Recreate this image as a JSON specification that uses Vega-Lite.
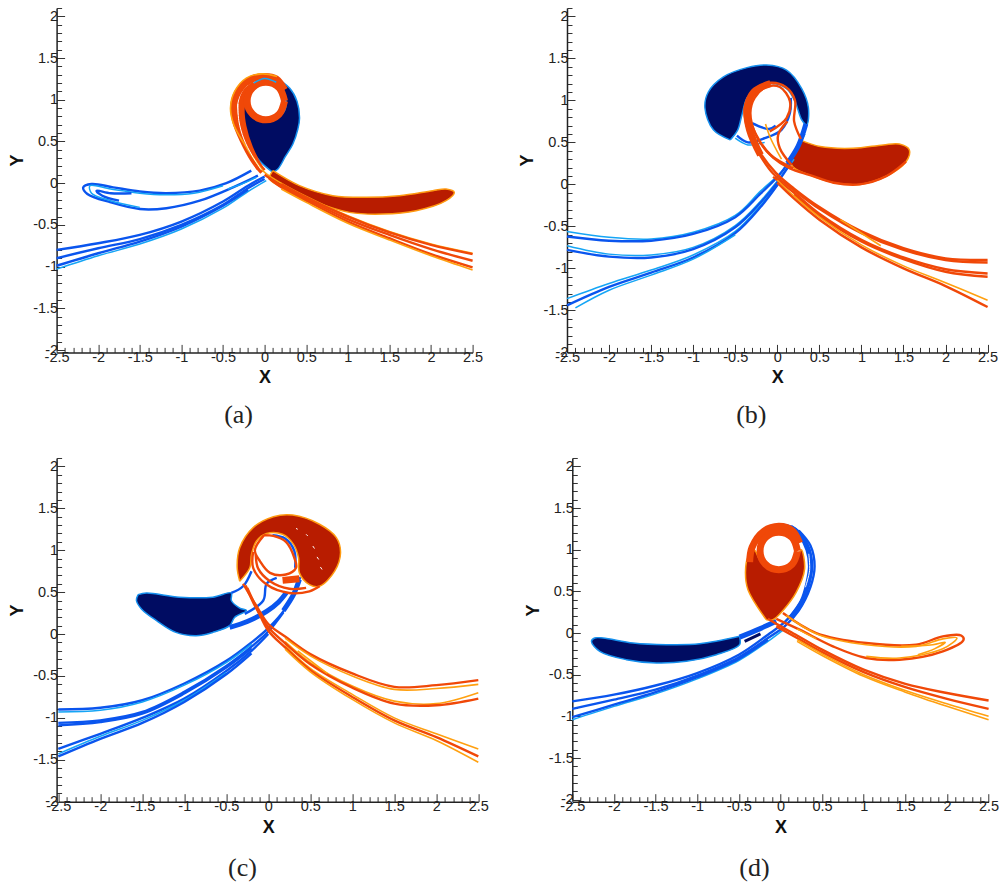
{"$schema":"https://vega.github.io/schema/vega-lite/v6.json","padding":{"left":8.6,"top":0,"right":0,"bottom":0},"spacing":22,
"config":{"view":{"stroke":null},"title":{"font":"Liberation Serif","fontSize":26,"fontWeight":"normal","orient":"bottom","dx":-26,"offset":15,"color":"#222"},
"axis":{"grid":false,"tickCount":50,"labelFont":"Liberation Sans","labelFontSize":14.5,"labelColor":"#222","labelOverlap":false,"labelBound":false,"labelFlush":false,"domainColor":"#222","domainWidth":1.5,"tickColor":"#333","tickWidth":1,"format":".1~f","labelExpr":"abs(datum.value*2-round(datum.value*2))<0.01 ? replace(datum.label,'\u2212','-') : ''","titleFont":"Liberation Sans","titleFontSize":18,"titleFontWeight":"bold","titleColor":"#111"},
"axisY":{"tickCount":41,"labelPadding":7,"titleAngle":270,"titleX":-30,"titleY":152},"axisX":{"labelPadding":6,"titlePadding":2}},
"datasets":{
"a":[
{"s":"n","k":"navy","x":0.1,"y":0.13},{"s":"n","k":"navy","x":0.16,"y":0.17},{"s":"n","k":"navy","x":0.25,"y":0.32},{"s":"n","k":"navy","x":0.34,"y":0.47},{"s":"n","k":"navy","x":0.4,"y":0.65},{"s":"n","k":"navy","x":0.42,"y":0.78},{"s":"n","k":"navy","x":0.39,"y":0.98},{"s":"n","k":"navy","x":0.3,"y":1.14},{"s":"n","k":"navy","x":0.16,"y":1.24},{"s":"n","k":"navy","x":0.22,"y":1.1},{"s":"n","k":"navy","x":0.26,"y":0.95},{"s":"n","k":"navy","x":0.2,"y":0.82},{"s":"n","k":"navy","x":0,"y":0.78},{"s":"n","k":"navy","x":-0.18,"y":0.88},{"s":"n","k":"navy","x":-0.2,"y":1.03},{"s":"n","k":"navy","x":-0.24,"y":1.03},{"s":"n","k":"navy","x":-0.29,"y":0.79},{"s":"n","k":"navy","x":-0.22,"y":0.51},{"s":"n","k":"navy","x":-0.06,"y":0.27},{"s":"n","k":"navy","x":0.1,"y":0.13},
{"s":"r","k":"red","x":0.1,"y":0.15},{"s":"r","k":"red","x":0.42,"y":-0.03},{"s":"r","k":"red","x":0.82,"y":-0.15},{"s":"r","k":"red","x":1.22,"y":-0.17},{"s":"r","k":"red","x":1.62,"y":-0.15},{"s":"r","k":"red","x":2.02,"y":-0.09},{"s":"r","k":"red","x":2.18,"y":-0.07},{"s":"r","k":"red","x":2.28,"y":-0.11},{"s":"r","k":"red","x":2.18,"y":-0.21},{"s":"r","k":"red","x":1.82,"y":-0.33},{"s":"r","k":"red","x":1.42,"y":-0.37},{"s":"r","k":"red","x":1.02,"y":-0.35},{"s":"r","k":"red","x":0.62,"y":-0.23},{"s":"r","k":"red","x":0.3,"y":-0.09},{"s":"r","k":"red","x":0.06,"y":0.05},{"s":"r","k":"red","x":0.1,"y":0.15},
{"s":"b1","k":"blue","x":-2.5,"y":-0.8},{"s":"b1","k":"blue","x":-2,"y":-0.72},{"s":"b1","k":"blue","x":-1.5,"y":-0.62},{"s":"b1","k":"blue","x":-1,"y":-0.46},{"s":"b1","k":"blue","x":-0.5,"y":-0.22},{"s":"b1","k":"blue","x":-0.2,"y":-0.03},{"s":"b1","k":"blue","x":0,"y":0.08},
{"s":"b2","k":"blue","x":-2.5,"y":-0.9},{"s":"b2","k":"blue","x":-2,"y":-0.78},{"s":"b2","k":"blue","x":-1.5,"y":-0.67},{"s":"b2","k":"blue","x":-1,"y":-0.5},{"s":"b2","k":"blue","x":-0.5,"y":-0.26},{"s":"b2","k":"blue","x":-0.2,"y":-0.06},{"s":"b2","k":"blue","x":0,"y":0.05},
{"s":"b3","k":"sky","x":-2.5,"y":-1.03},{"s":"b3","k":"sky","x":-2,"y":-0.87},{"s":"b3","k":"sky","x":-1.5,"y":-0.73},{"s":"b3","k":"sky","x":-1,"y":-0.55},{"s":"b3","k":"sky","x":-0.5,"y":-0.3},{"s":"b3","k":"sky","x":-0.2,"y":-0.1},{"s":"b3","k":"sky","x":0.02,"y":0.03},
{"s":"b4","k":"blue","x":-2.5,"y":-0.99},{"s":"b4","k":"blue","x":-2,"y":-0.84},{"s":"b4","k":"blue","x":-1.5,"y":-0.7},{"s":"b4","k":"blue","x":-1,"y":-0.52},{"s":"b4","k":"blue","x":-0.5,"y":-0.27},{"s":"b4","k":"blue","x":-0.2,"y":-0.08},
{"s":"b5","k":"blue","x":-0.16,"y":0.15},{"s":"b5","k":"blue","x":-0.46,"y":0},{"s":"b5","k":"blue","x":-0.78,"y":-0.09},{"s":"b5","k":"blue","x":-1.18,"y":-0.12},{"s":"b5","k":"blue","x":-1.5,"y":-0.1},{"s":"b5","k":"blue","x":-1.82,"y":-0.05},{"s":"b5","k":"blue","x":-2.08,"y":-0.01},{"s":"b5","k":"blue","x":-2.18,"y":-0.05},{"s":"b5","k":"blue","x":-2.13,"y":-0.13},{"s":"b5","k":"blue","x":-1.85,"y":-0.23},{"s":"b5","k":"blue","x":-1.5,"y":-0.31},{"s":"b5","k":"blue","x":-1.18,"y":-0.3},{"s":"b5","k":"blue","x":-0.78,"y":-0.21},{"s":"b5","k":"blue","x":-0.38,"y":-0.05},{"s":"b5","k":"blue","x":-0.08,"y":0.09},
{"s":"b6","k":"sky","x":-0.5,"y":-0.03},{"s":"b6","k":"sky","x":-0.85,"y":-0.12},{"s":"b6","k":"sky","x":-1.2,"y":-0.14},{"s":"b6","k":"sky","x":-1.5,"y":-0.12},{"s":"b6","k":"sky","x":-1.85,"y":-0.07},{"s":"b6","k":"sky","x":-2.1,"y":-0.03},{"s":"b6","k":"sky","x":-2.08,"y":-0.12},{"s":"b6","k":"sky","x":-1.85,"y":-0.21},{"s":"b6","k":"sky","x":-1.5,"y":-0.29},
{"s":"b7","k":"blue","x":-1.6,"y":-0.12},{"s":"b7","k":"blue","x":-1.85,"y":-0.12},{"s":"b7","k":"blue","x":-2.02,"y":-0.09},{"s":"b7","k":"blue","x":-1.95,"y":-0.15},{"s":"b7","k":"blue","x":-1.75,"y":-0.21},
{"s":"b8","k":"sky","x":-0.44,"y":-0.07},{"s":"b8","k":"sky","x":-0.25,"y":0},{"s":"b8","k":"sky","x":-0.1,"y":0.07},
{"s":"w","k":"orangewide","x":-0.02,"y":0.14},{"s":"w","k":"orangewide","x":-0.13,"y":0.28},{"s":"w","k":"orangewide","x":-0.26,"y":0.52},{"s":"w","k":"orangewide","x":-0.35,"y":0.75},{"s":"w","k":"orangewide","x":-0.37,"y":0.95},{"s":"w","k":"orangewide","x":-0.29,"y":1.14},{"s":"w","k":"orangewide","x":-0.15,"y":1.25},{"s":"w","k":"orangewide","x":0,"y":1.28},{"s":"w","k":"orangewide","x":0.14,"y":1.25},{"s":"w","k":"orangewide","x":0.24,"y":1.12},
{"s":"w2","k":"orangewide","x":-0.06,"y":0.18},{"s":"w2","k":"orangewide","x":-0.18,"y":0.42},{"s":"w2","k":"orangewide","x":-0.26,"y":0.68},{"s":"w2","k":"orangewide","x":-0.28,"y":0.9},{"s":"w2","k":"orangewide","x":-0.23,"y":1.08},{"s":"w2","k":"orangewide","x":-0.12,"y":1.18},
{"s":"o1","k":"amber","x":2.5,"y":-0.84},{"s":"o1","k":"amber","x":2,"y":-0.73},{"s":"o1","k":"amber","x":1.5,"y":-0.58},{"s":"o1","k":"amber","x":1,"y":-0.39},{"s":"o1","k":"amber","x":0.5,"y":-0.16},{"s":"o1","k":"amber","x":0.2,"y":0},{"s":"o1","k":"amber","x":0,"y":0.13},{"s":"o1","k":"amber","x":-0.12,"y":0.28},{"s":"o1","k":"amber","x":-0.25,"y":0.48},{"s":"o1","k":"amber","x":-0.37,"y":0.7},{"s":"o1","k":"amber","x":-0.41,"y":0.9},{"s":"o1","k":"amber","x":-0.36,"y":1.1},{"s":"o1","k":"amber","x":-0.22,"y":1.26},{"s":"o1","k":"amber","x":-0.03,"y":1.31},{"s":"o1","k":"amber","x":0.15,"y":1.28},
{"s":"o2","k":"orange","x":2.5,"y":-0.93},{"s":"o2","k":"orange","x":2,"y":-0.79},{"s":"o2","k":"orange","x":1.5,"y":-0.62},{"s":"o2","k":"orange","x":1,"y":-0.43},{"s":"o2","k":"orange","x":0.5,"y":-0.19},{"s":"o2","k":"orange","x":0.2,"y":-0.03},{"s":"o2","k":"orange","x":0,"y":0.1},
{"s":"o2b","k":"orange","x":2.5,"y":-0.85},{"s":"o2b","k":"orange","x":2,"y":-0.74},{"s":"o2b","k":"orange","x":1.5,"y":-0.59},{"s":"o2b","k":"orange","x":1,"y":-0.4},{"s":"o2b","k":"orange","x":0.5,"y":-0.17},{"s":"o2b","k":"orange","x":0.2,"y":-0.01},
{"s":"o3","k":"orange","x":2.5,"y":-1.01},{"s":"o3","k":"orange","x":2,"y":-0.85},{"s":"o3","k":"orange","x":1.5,"y":-0.66},{"s":"o3","k":"orange","x":1,"y":-0.46},{"s":"o3","k":"orange","x":0.5,"y":-0.21},{"s":"o3","k":"orange","x":0.2,"y":-0.05},{"s":"o3","k":"orange","x":0.05,"y":0.06},
{"s":"o4","k":"amber","x":2.5,"y":-1.04},{"s":"o4","k":"amber","x":2,"y":-0.87},{"s":"o4","k":"amber","x":1.5,"y":-0.68},{"s":"o4","k":"amber","x":1,"y":-0.48},{"s":"o4","k":"amber","x":0.5,"y":-0.23},{"s":"o4","k":"amber","x":0.2,"y":-0.07},
{"s":"wh","k":"white","x":-0.04,"y":0.16},{"s":"wh","k":"white","x":-0.15,"y":0.33},{"s":"wh","k":"white","x":-0.25,"y":0.53},{"s":"wh","k":"white","x":-0.31,"y":0.75},{"s":"wh","k":"white","x":-0.32,"y":0.95},
{"s":"ring","k":"orangewide","x":0.24,"y":0.985},{"s":"ring","k":"orangewide","x":0.174,"y":1.144},{"s":"ring","k":"orangewide","x":0.015,"y":1.21},{"s":"ring","k":"orangewide","x":-0.144,"y":1.144},{"s":"ring","k":"orangewide","x":-0.21,"y":0.985},{"s":"ring","k":"orangewide","x":-0.144,"y":0.826},{"s":"ring","k":"orangewide","x":0.015,"y":0.76},{"s":"ring","k":"orangewide","x":0.174,"y":0.826},{"s":"ring","k":"orangewide","x":0.24,"y":0.985},
{"s":"b9","k":"sky","x":-0.13,"y":1.2},{"s":"b9","k":"sky","x":0,"y":1.255},{"s":"b9","k":"sky","x":0.14,"y":1.21}
],
"b":[
{"s":"n","k":"navy","x":-0.56,"y":0.53},{"s":"n","k":"navy","x":-0.76,"y":0.65},{"s":"n","k":"navy","x":-0.86,"y":0.91},{"s":"n","k":"navy","x":-0.82,"y":1.1},{"s":"n","k":"navy","x":-0.64,"y":1.28},{"s":"n","k":"navy","x":-0.36,"y":1.39},{"s":"n","k":"navy","x":-0.13,"y":1.42},{"s":"n","k":"navy","x":0.11,"y":1.36},{"s":"n","k":"navy","x":0.29,"y":1.14},{"s":"n","k":"navy","x":0.37,"y":0.91},{"s":"n","k":"navy","x":0.35,"y":0.71},{"s":"n","k":"navy","x":0.29,"y":0.77},{"s":"n","k":"navy","x":0.21,"y":0.99},{"s":"n","k":"navy","x":0.11,"y":1.14},{"s":"n","k":"navy","x":-0.07,"y":1.2},{"s":"n","k":"navy","x":-0.25,"y":1.14},{"s":"n","k":"navy","x":-0.36,"y":1.03},{"s":"n","k":"navy","x":-0.42,"y":0.83},{"s":"n","k":"navy","x":-0.47,"y":0.65},{"s":"n","k":"navy","x":-0.56,"y":0.53},
{"s":"r","k":"red","x":0.27,"y":0.53},{"s":"r","k":"red","x":0.51,"y":0.45},{"s":"r","k":"red","x":0.9,"y":0.43},{"s":"r","k":"red","x":1.26,"y":0.47},{"s":"r","k":"red","x":1.45,"y":0.48},{"s":"r","k":"red","x":1.57,"y":0.41},{"s":"r","k":"red","x":1.53,"y":0.27},{"s":"r","k":"red","x":1.3,"y":0.1},{"s":"r","k":"red","x":0.98,"y":0},{"s":"r","k":"red","x":0.67,"y":0.02},{"s":"r","k":"red","x":0.39,"y":0.11},{"s":"r","k":"red","x":0.17,"y":0.23},{"s":"r","k":"red","x":0.27,"y":0.53},
{"s":"b1","k":"sky","x":-2.5,"y":-0.56},{"s":"b1","k":"sky","x":-2,"y":-0.63},{"s":"b1","k":"sky","x":-1.5,"y":-0.65},{"s":"b1","k":"sky","x":-1,"y":-0.57},{"s":"b1","k":"sky","x":-0.5,"y":-0.37},{"s":"b1","k":"sky","x":-0.2,"y":-0.08},{"s":"b1","k":"sky","x":0.05,"y":0.15},{"s":"b1","k":"sky","x":0.2,"y":0.36},{"s":"b1","k":"sky","x":0.33,"y":0.6},
{"s":"b2","k":"blue","x":-2.5,"y":-0.62},{"s":"b2","k":"blue","x":-2,"y":-0.67},{"s":"b2","k":"blue","x":-1.5,"y":-0.67},{"s":"b2","k":"blue","x":-1,"y":-0.59},{"s":"b2","k":"blue","x":-0.5,"y":-0.39},{"s":"b2","k":"blue","x":-0.2,"y":-0.11},{"s":"b2","k":"blue","x":0.03,"y":0.12},{"s":"b2","k":"blue","x":0.18,"y":0.34},{"s":"b2","k":"blue","x":0.3,"y":0.58},
{"s":"b3","k":"sky","x":-2.5,"y":-0.73},{"s":"b3","k":"sky","x":-2,"y":-0.83},{"s":"b3","k":"sky","x":-1.5,"y":-0.84},{"s":"b3","k":"sky","x":-1,"y":-0.75},{"s":"b3","k":"sky","x":-0.5,"y":-0.49},{"s":"b3","k":"sky","x":-0.2,"y":-0.2},{"s":"b3","k":"sky","x":0,"y":0.04},{"s":"b3","k":"sky","x":0.2,"y":0.3},
{"s":"b4","k":"blue","x":-2.5,"y":-0.78},{"s":"b4","k":"blue","x":-2,"y":-0.86},{"s":"b4","k":"blue","x":-1.5,"y":-0.87},{"s":"b4","k":"blue","x":-1,"y":-0.77},{"s":"b4","k":"blue","x":-0.5,"y":-0.51},{"s":"b4","k":"blue","x":-0.2,"y":-0.22},{"s":"b4","k":"blue","x":0,"y":0.02},{"s":"b4","k":"blue","x":0.17,"y":0.27},
{"s":"b5","k":"sky","x":-2.5,"y":-1.36},{"s":"b5","k":"sky","x":-2,"y":-1.18},{"s":"b5","k":"sky","x":-1.5,"y":-1.02},{"s":"b5","k":"sky","x":-1,"y":-0.84},{"s":"b5","k":"sky","x":-0.5,"y":-0.56},{"s":"b5","k":"sky","x":-0.2,"y":-0.25},{"s":"b5","k":"sky","x":0.04,"y":0.04},
{"s":"b6","k":"blue","x":-2.5,"y":-1.44},{"s":"b6","k":"blue","x":-2,"y":-1.22},{"s":"b6","k":"blue","x":-1.5,"y":-1.05},{"s":"b6","k":"blue","x":-1,"y":-0.87},{"s":"b6","k":"blue","x":-0.5,"y":-0.58},{"s":"b6","k":"blue","x":-0.2,"y":-0.27},{"s":"b6","k":"blue","x":0.02,"y":0.02},
{"s":"b7","k":"sky","x":-2.4,"y":-1.47},{"s":"b7","k":"sky","x":-2,"y":-1.26},{"s":"b7","k":"sky","x":-1.5,"y":-1.08},{"s":"b7","k":"sky","x":-1,"y":-0.89},{"s":"b7","k":"sky","x":-0.5,"y":-0.6},
{"s":"b8","k":"bluewide","x":0.12,"y":0.25},{"s":"b8","k":"bluewide","x":0.25,"y":0.46},{"s":"b8","k":"bluewide","x":0.34,"y":0.72},
{"s":"b9","k":"blue","x":-0.48,"y":0.58},{"s":"b9","k":"blue","x":-0.35,"y":0.5},{"s":"b9","k":"blue","x":-0.15,"y":0.55},{"s":"b9","k":"blue","x":0.05,"y":0.65},{"s":"b9","k":"blue","x":0.15,"y":0.85},{"s":"b9","k":"blue","x":0.16,"y":1.03},
{"s":"b10","k":"sky","x":-0.5,"y":0.55},{"s":"b10","k":"sky","x":-0.35,"y":0.47},{"s":"b10","k":"sky","x":-0.15,"y":0.5},
{"s":"b11","k":"blue","x":-0.3,"y":0.73},{"s":"b11","k":"blue","x":-0.1,"y":0.66},{"s":"b11","k":"blue","x":-0.02,"y":0.7},
{"s":"o1","k":"orange","x":2.5,"y":-0.9},{"s":"o1","k":"orange","x":2,"y":-0.88},{"s":"o1","k":"orange","x":1.5,"y":-0.76},{"s":"o1","k":"orange","x":1,"y":-0.56},{"s":"o1","k":"orange","x":0.5,"y":-0.27},{"s":"o1","k":"orange","x":0.2,"y":-0.05},{"s":"o1","k":"orange","x":-0.02,"y":0.14},{"s":"o1","k":"orange","x":-0.25,"y":0.45},{"s":"o1","k":"orange","x":-0.37,"y":0.72},{"s":"o1","k":"orange","x":-0.38,"y":0.95},{"s":"o1","k":"orange","x":-0.28,"y":1.12},{"s":"o1","k":"orange","x":-0.08,"y":1.21},{"s":"o1","k":"orange","x":0.1,"y":1.16},{"s":"o1","k":"orange","x":0.21,"y":1},{"s":"o1","k":"orange","x":0.2,"y":0.75},{"s":"o1","k":"orange","x":0.28,"y":0.54},
{"s":"o1w","k":"orangewide","x":-0.2,"y":0.35},{"s":"o1w","k":"orangewide","x":-0.33,"y":0.65},{"s":"o1w","k":"orangewide","x":-0.36,"y":0.9},{"s":"o1w","k":"orangewide","x":-0.28,"y":1.1},{"s":"o1w","k":"orangewide","x":-0.08,"y":1.2},
{"s":"o2","k":"orange","x":2.5,"y":-0.93},{"s":"o2","k":"orange","x":2,"y":-0.9},{"s":"o2","k":"orange","x":1.5,"y":-0.78},{"s":"o2","k":"orange","x":1,"y":-0.58},{"s":"o2","k":"orange","x":0.5,"y":-0.29},{"s":"o2","k":"orange","x":0.2,"y":-0.07},{"s":"o2","k":"orange","x":-0.05,"y":0.13},{"s":"o2","k":"orange","x":-0.22,"y":0.37},
{"s":"o3","k":"orange","x":2.5,"y":-1.06},{"s":"o3","k":"orange","x":2,"y":-1.01},{"s":"o3","k":"orange","x":1.5,"y":-0.87},{"s":"o3","k":"orange","x":1,"y":-0.66},{"s":"o3","k":"orange","x":0.5,"y":-0.35},{"s":"o3","k":"orange","x":0.2,"y":-0.1},{"s":"o3","k":"orange","x":-0.05,"y":0.09},
{"s":"o4","k":"orange","x":2.5,"y":-1.1},{"s":"o4","k":"orange","x":2,"y":-1.04},{"s":"o4","k":"orange","x":1.5,"y":-0.89},{"s":"o4","k":"orange","x":1,"y":-0.68},{"s":"o4","k":"orange","x":0.5,"y":-0.37},{"s":"o4","k":"orange","x":0.2,"y":-0.12},
{"s":"o5","k":"amber","x":2.5,"y":-1.38},{"s":"o5","k":"amber","x":2,"y":-1.17},{"s":"o5","k":"amber","x":1.5,"y":-0.97},{"s":"o5","k":"amber","x":1,"y":-0.72},{"s":"o5","k":"amber","x":0.5,"y":-0.39},{"s":"o5","k":"amber","x":0.2,"y":-0.14},{"s":"o5","k":"amber","x":0,"y":0.05},
{"s":"o6","k":"orange","x":2.5,"y":-1.46},{"s":"o6","k":"orange","x":2,"y":-1.21},{"s":"o6","k":"orange","x":1.5,"y":-1},{"s":"o6","k":"orange","x":1,"y":-0.75},{"s":"o6","k":"orange","x":0.5,"y":-0.42},{"s":"o6","k":"orange","x":0.2,"y":-0.17},{"s":"o6","k":"orange","x":0,"y":0.02},
{"s":"o7","k":"orange","x":0.19,"y":0.19},{"s":"o7","k":"orange","x":-0.08,"y":0.35},{"s":"o7","k":"orange","x":-0.25,"y":0.58},{"s":"o7","k":"orange","x":-0.32,"y":0.85},{"s":"o7","k":"orange","x":-0.27,"y":1.03},{"s":"o7","k":"orange","x":-0.13,"y":1.16},{"s":"o7","k":"orange","x":0.03,"y":1.16},{"s":"o7","k":"orange","x":0.15,"y":0.99},{"s":"o7","k":"orange","x":0.11,"y":0.79},{"s":"o7","k":"orange","x":-0.09,"y":0.63},
{"s":"o8","k":"orange","x":1.53,"y":0.27},{"s":"o8","k":"orange","x":1.3,"y":0.1},{"s":"o8","k":"orange","x":0.98,"y":0},{"s":"o8","k":"orange","x":0.67,"y":0.02},{"s":"o8","k":"orange","x":0.39,"y":0.11},{"s":"o8","k":"orange","x":0.15,"y":0.19},{"s":"o8","k":"orange","x":-0.05,"y":0.32},{"s":"o8","k":"orange","x":-0.2,"y":0.5},{"s":"o8","k":"orange","x":-0.32,"y":0.75},{"s":"o8","k":"orange","x":-0.35,"y":0.9},
{"s":"o9","k":"orange","x":0.17,"y":0.23},{"s":"o9","k":"orange","x":0.03,"y":0.43},{"s":"o9","k":"orange","x":0.01,"y":0.59},{"s":"o9","k":"orange","x":0.12,"y":0.75},
{"s":"o10","k":"amber","x":-0.14,"y":0.72},{"s":"o10","k":"amber","x":-0.08,"y":0.55},{"s":"o10","k":"amber","x":0.05,"y":0.3},
{"s":"o11","k":"amber","x":0.75,"y":-0.42},{"s":"o11","k":"amber","x":1.23,"y":-0.73}
],
"c":[
{"s":"n","k":"navy","x":-1.55,"y":0.47},{"s":"n","k":"navy","x":-1.45,"y":0.49},{"s":"n","k":"navy","x":-1.06,"y":0.44},{"s":"n","k":"navy","x":-0.66,"y":0.44},{"s":"n","k":"navy","x":-0.44,"y":0.49},{"s":"n","k":"navy","x":-0.44,"y":0.4},{"s":"n","k":"navy","x":-0.34,"y":0.31},{"s":"n","k":"navy","x":-0.26,"y":0.28},{"s":"n","k":"navy","x":-0.4,"y":0.2},{"s":"n","k":"navy","x":-0.46,"y":0.1},{"s":"n","k":"navy","x":-0.66,"y":0.02},{"s":"n","k":"navy","x":-0.86,"y":-0.02},{"s":"n","k":"navy","x":-1.1,"y":0.02},{"s":"n","k":"navy","x":-1.33,"y":0.16},{"s":"n","k":"navy","x":-1.51,"y":0.3},{"s":"n","k":"navy","x":-1.57,"y":0.4},{"s":"n","k":"navy","x":-1.55,"y":0.47},
{"s":"b1","k":"blue","x":-2.5,"y":-0.9},{"s":"b1","k":"blue","x":-2,"y":-0.88},{"s":"b1","k":"blue","x":-1.5,"y":-0.79},{"s":"b1","k":"blue","x":-1,"y":-0.59},{"s":"b1","k":"blue","x":-0.5,"y":-0.32},{"s":"b1","k":"blue","x":-0.2,"y":-0.1},{"s":"b1","k":"blue","x":0,"y":0.07},{"s":"b1","k":"blue","x":0.2,"y":0.3},{"s":"b1","k":"blue","x":0.33,"y":0.55},{"s":"b1","k":"blue","x":0.38,"y":0.68},
{"s":"b2","k":"sky","x":-2.5,"y":-0.93},{"s":"b2","k":"sky","x":-2,"y":-0.91},{"s":"b2","k":"sky","x":-1.5,"y":-0.81},{"s":"b2","k":"sky","x":-1,"y":-0.61},{"s":"b2","k":"sky","x":-0.5,"y":-0.34},{"s":"b2","k":"sky","x":-0.2,"y":-0.12},
{"s":"b3","k":"blue","x":-2.5,"y":-1.06},{"s":"b3","k":"blue","x":-2,"y":-1.03},{"s":"b3","k":"blue","x":-1.5,"y":-0.93},{"s":"b3","k":"blue","x":-1,"y":-0.69},{"s":"b3","k":"blue","x":-0.5,"y":-0.38},{"s":"b3","k":"blue","x":-0.2,"y":-0.15},{"s":"b3","k":"blue","x":0,"y":0.03},{"s":"b3","k":"blue","x":0.18,"y":0.26},
{"s":"b4","k":"blue","x":-2.5,"y":-1.09},{"s":"b4","k":"blue","x":-2,"y":-1.05},{"s":"b4","k":"blue","x":-1.5,"y":-0.95},{"s":"b4","k":"blue","x":-1,"y":-0.71},{"s":"b4","k":"blue","x":-0.5,"y":-0.4},{"s":"b4","k":"blue","x":-0.2,"y":-0.17},
{"s":"b5","k":"blue","x":-2.5,"y":-1.37},{"s":"b5","k":"blue","x":-2,"y":-1.19},{"s":"b5","k":"blue","x":-1.5,"y":-1},{"s":"b5","k":"blue","x":-1,"y":-0.77},{"s":"b5","k":"blue","x":-0.5,"y":-0.44},{"s":"b5","k":"blue","x":-0.2,"y":-0.2},{"s":"b5","k":"blue","x":0,"y":0},
{"s":"b6","k":"sky","x":-2.5,"y":-1.43},{"s":"b6","k":"sky","x":-2,"y":-1.22},{"s":"b6","k":"sky","x":-1.5,"y":-1.03},{"s":"b6","k":"sky","x":-1,"y":-0.79},{"s":"b6","k":"sky","x":-0.5,"y":-0.46},
{"s":"b7","k":"blue","x":-2.5,"y":-1.46},{"s":"b7","k":"blue","x":-2,"y":-1.25},{"s":"b7","k":"blue","x":-1.5,"y":-1.06},{"s":"b7","k":"blue","x":-1,"y":-0.81},{"s":"b7","k":"blue","x":-0.5,"y":-0.48},{"s":"b7","k":"blue","x":-0.2,"y":-0.23},
{"s":"b8","k":"bluewide","x":-0.46,"y":0.08},{"s":"b8","k":"bluewide","x":-0.25,"y":0.15},{"s":"b8","k":"bluewide","x":-0.02,"y":0.27},{"s":"b8","k":"bluewide","x":0.12,"y":0.38},{"s":"b8","k":"bluewide","x":0.22,"y":0.5},
{"s":"b9","k":"bluewide","x":0.18,"y":0.28},{"s":"b9","k":"bluewide","x":0.3,"y":0.47},{"s":"b9","k":"bluewide","x":0.37,"y":0.65},
{"s":"b10","k":"blue","x":-0.28,"y":0.24},{"s":"b10","k":"blue","x":-0.06,"y":0.4},{"s":"b10","k":"blue","x":-0.02,"y":0.6},{"s":"b10","k":"blue","x":0.1,"y":0.67},
{"s":"b11","k":"blue","x":-0.44,"y":0.49},{"s":"b11","k":"blue","x":-0.3,"y":0.57},{"s":"b11","k":"blue","x":-0.2,"y":0.75},
{"s":"r","k":"red","x":-0.34,"y":0.63},{"s":"r","k":"red","x":-0.37,"y":0.79},{"s":"r","k":"red","x":-0.34,"y":1.03},{"s":"r","k":"red","x":-0.18,"y":1.27},{"s":"r","k":"red","x":0.06,"y":1.4},{"s":"r","k":"red","x":0.29,"y":1.42},{"s":"r","k":"red","x":0.61,"y":1.31},{"s":"r","k":"red","x":0.81,"y":1.15},{"s":"r","k":"red","x":0.86,"y":0.97},{"s":"r","k":"red","x":0.79,"y":0.75},{"s":"r","k":"red","x":0.61,"y":0.57},{"s":"r","k":"red","x":0.49,"y":0.59},{"s":"r","k":"red","x":0.37,"y":0.73},{"s":"r","k":"red","x":0.36,"y":0.91},{"s":"r","k":"red","x":0.3,"y":1.07},{"s":"r","k":"red","x":0.17,"y":1.19},{"s":"r","k":"red","x":-0.02,"y":1.2},{"s":"r","k":"red","x":-0.14,"y":1.11},{"s":"r","k":"red","x":-0.2,"y":0.95},{"s":"r","k":"red","x":-0.22,"y":0.79},{"s":"r","k":"red","x":-0.34,"y":0.63},
{"s":"b12","k":"blue","x":0.05,"y":1.18},{"s":"b12","k":"blue","x":0.2,"y":1.14},{"s":"b12","k":"blue","x":0.31,"y":0.99},{"s":"b12","k":"blue","x":0.32,"y":0.79},
{"s":"d1","k":"white","x":0.33,"y":1.26},{"s":"d1","k":"white","x":0.35,"y":1.25},{"s":"d2","k":"white","x":0.45,"y":1.19},{"s":"d2","k":"white","x":0.47,"y":1.17},{"s":"d3","k":"white","x":0.53,"y":1.05},{"s":"d3","k":"white","x":0.55,"y":1.02},{"s":"d4","k":"white","x":0.58,"y":0.92},{"s":"d4","k":"white","x":0.6,"y":0.89},{"s":"d5","k":"white","x":0.62,"y":0.8},{"s":"d5","k":"white","x":0.64,"y":0.77},
{"s":"o1","k":"orange","x":2.5,"y":-0.55},{"s":"o1","k":"orange","x":2,"y":-0.61},{"s":"o1","k":"orange","x":1.5,"y":-0.63},{"s":"o1","k":"orange","x":1,"y":-0.47},{"s":"o1","k":"orange","x":0.5,"y":-0.24},{"s":"o1","k":"orange","x":0.2,"y":-0.03},{"s":"o1","k":"orange","x":0,"y":0.12},{"s":"o1","k":"orange","x":-0.15,"y":0.35},{"s":"o1","k":"orange","x":-0.3,"y":0.6},
{"s":"o2","k":"amber","x":2.5,"y":-0.6},{"s":"o2","k":"amber","x":2,"y":-0.65},{"s":"o2","k":"amber","x":1.5,"y":-0.66},{"s":"o2","k":"amber","x":1,"y":-0.5},{"s":"o2","k":"amber","x":0.5,"y":-0.26},{"s":"o2","k":"amber","x":0.2,"y":-0.05},
{"s":"o3","k":"amber","x":2.5,"y":-0.7},{"s":"o3","k":"amber","x":2,"y":-0.83},{"s":"o3","k":"amber","x":1.5,"y":-0.8},{"s":"o3","k":"amber","x":1,"y":-0.62},{"s":"o3","k":"amber","x":0.5,"y":-0.34},{"s":"o3","k":"amber","x":0.2,"y":-0.09},
{"s":"o4","k":"orange","x":2.5,"y":-0.77},{"s":"o4","k":"orange","x":2,"y":-0.85},{"s":"o4","k":"orange","x":1.5,"y":-0.83},{"s":"o4","k":"orange","x":1,"y":-0.64},{"s":"o4","k":"orange","x":0.5,"y":-0.36},{"s":"o4","k":"orange","x":0.2,"y":-0.11},{"s":"o4","k":"orange","x":0,"y":0.08},{"s":"o4","k":"orange","x":-0.15,"y":0.32},{"s":"o4","k":"orange","x":-0.27,"y":0.58},
{"s":"o5","k":"amber","x":2.5,"y":-1.37},{"s":"o5","k":"amber","x":2,"y":-1.19},{"s":"o5","k":"amber","x":1.5,"y":-1},{"s":"o5","k":"amber","x":1,"y":-0.72},{"s":"o5","k":"amber","x":0.5,"y":-0.41},{"s":"o5","k":"amber","x":0.2,"y":-0.14},
{"s":"o6","k":"orange","x":2.5,"y":-1.46},{"s":"o6","k":"orange","x":2,"y":-1.23},{"s":"o6","k":"orange","x":1.5,"y":-1.03},{"s":"o6","k":"orange","x":1,"y":-0.75},{"s":"o6","k":"orange","x":0.5,"y":-0.43},{"s":"o6","k":"orange","x":0.2,"y":-0.16},{"s":"o6","k":"orange","x":0,"y":0.04},{"s":"o6","k":"orange","x":-0.12,"y":0.27},{"s":"o6","k":"orange","x":-0.25,"y":0.55},
{"s":"o7","k":"amber","x":2.5,"y":-1.53},{"s":"o7","k":"amber","x":2,"y":-1.27},{"s":"o7","k":"amber","x":1.5,"y":-1.06},{"s":"o7","k":"amber","x":1,"y":-0.78},{"s":"o7","k":"amber","x":0.5,"y":-0.45},{"s":"o7","k":"amber","x":0.2,"y":-0.18},
{"s":"o8","k":"orange","x":-0.05,"y":1.18},{"s":"o8","k":"orange","x":0.06,"y":1.17},{"s":"o8","k":"orange","x":0.21,"y":1.1},{"s":"o8","k":"orange","x":0.31,"y":0.91},{"s":"o8","k":"orange","x":0.33,"y":0.79},{"s":"o8","k":"orange","x":0.21,"y":0.71},{"s":"o8","k":"orange","x":0.02,"y":0.73},{"s":"o8","k":"orange","x":-0.1,"y":0.87},{"s":"o8","k":"orange","x":-0.16,"y":1},{"s":"o8","k":"orange","x":-0.05,"y":1.18},
{"s":"o9","k":"orange","x":-0.18,"y":0.98},{"s":"o9","k":"orange","x":-0.18,"y":0.79},{"s":"o9","k":"orange","x":-0.02,"y":0.59},{"s":"o9","k":"orange","x":0.25,"y":0.49},{"s":"o9","k":"orange","x":0.49,"y":0.51},{"s":"o9","k":"orange","x":0.61,"y":0.57},
{"s":"o10","k":"orange","x":-0.15,"y":0.95},{"s":"o10","k":"orange","x":-0.12,"y":0.78},{"s":"o10","k":"orange","x":0.02,"y":0.63},{"s":"o10","k":"orange","x":0.25,"y":0.54},{"s":"o10","k":"orange","x":0.45,"y":0.55},
{"s":"o11","k":"orangewide","x":0.17,"y":0.64},{"s":"o11","k":"orangewide","x":0.37,"y":0.66},
{"s":"o12","k":"amber","x":0.7,"y":-0.47},{"s":"o12","k":"amber","x":0.35,"y":-0.2}
],
"d":[
{"s":"n","k":"navy","x":-0.49,"y":-0.04},{"s":"n","k":"navy","x":-0.97,"y":-0.13},{"s":"n","k":"navy","x":-1.37,"y":-0.14},{"s":"n","k":"navy","x":-1.77,"y":-0.12},{"s":"n","k":"navy","x":-2.13,"y":-0.06},{"s":"n","k":"navy","x":-2.23,"y":-0.06},{"s":"n","k":"navy","x":-2.27,"y":-0.1},{"s":"n","k":"navy","x":-2.17,"y":-0.22},{"s":"n","k":"navy","x":-1.85,"y":-0.32},{"s":"n","k":"navy","x":-1.49,"y":-0.36},{"s":"n","k":"navy","x":-1.13,"y":-0.34},{"s":"n","k":"navy","x":-0.77,"y":-0.26},{"s":"n","k":"navy","x":-0.49,"y":-0.14},{"s":"n","k":"navy","x":-0.49,"y":-0.04},
{"s":"n2","k":"navystrip","x":-0.43,"y":-0.1},{"s":"n2","k":"navystrip","x":-0.24,"y":-0.01},
{"s":"b1","k":"blue","x":-2.5,"y":-0.82},{"s":"b1","k":"blue","x":-2,"y":-0.74},{"s":"b1","k":"blue","x":-1.5,"y":-0.63},{"s":"b1","k":"blue","x":-1,"y":-0.48},{"s":"b1","k":"blue","x":-0.5,"y":-0.26},{"s":"b1","k":"blue","x":-0.15,"y":-0.02},{"s":"b1","k":"blue","x":0.05,"y":0.13},{"s":"b1","k":"blue","x":0.2,"y":0.3},{"s":"b1","k":"blue","x":0.33,"y":0.55},{"s":"b1","k":"blue","x":0.38,"y":0.8},{"s":"b1","k":"blue","x":0.33,"y":1.05},{"s":"b1","k":"blue","x":0.18,"y":1.25},{"s":"b1","k":"blue","x":0.03,"y":1.3},
{"s":"b2","k":"blue","x":-2.5,"y":-0.91},{"s":"b2","k":"blue","x":-2,"y":-0.8},{"s":"b2","k":"blue","x":-1.5,"y":-0.68},{"s":"b2","k":"blue","x":-1,"y":-0.51},{"s":"b2","k":"blue","x":-0.5,"y":-0.29},{"s":"b2","k":"blue","x":-0.15,"y":-0.06},{"s":"b2","k":"blue","x":0.05,"y":0.08},{"s":"b2","k":"blue","x":0.22,"y":0.27},{"s":"b2","k":"blue","x":0.36,"y":0.55},{"s":"b2","k":"blue","x":0.41,"y":0.8},{"s":"b2","k":"blue","x":0.36,"y":1.05},{"s":"b2","k":"blue","x":0.22,"y":1.23},
{"s":"b3","k":"sky","x":-2.5,"y":-1.04},{"s":"b3","k":"sky","x":-2,"y":-0.88},{"s":"b3","k":"sky","x":-1.5,"y":-0.73},{"s":"b3","k":"sky","x":-1,"y":-0.55},{"s":"b3","k":"sky","x":-0.5,"y":-0.33},{"s":"b3","k":"sky","x":-0.15,"y":-0.1},{"s":"b3","k":"sky","x":0.05,"y":0.05},
{"s":"b4","k":"blue","x":-2.5,"y":-1.01},{"s":"b4","k":"blue","x":-2,"y":-0.86},{"s":"b4","k":"blue","x":-1.5,"y":-0.71},{"s":"b4","k":"blue","x":-1,"y":-0.53},{"s":"b4","k":"blue","x":-0.5,"y":-0.31},{"s":"b4","k":"blue","x":-0.15,"y":-0.08},
{"s":"b5","k":"bluewide","x":0.12,"y":0.18},{"s":"b5","k":"bluewide","x":0.26,"y":0.38},{"s":"b5","k":"bluewide","x":0.33,"y":0.6},{"s":"b5","k":"bluewide","x":0.36,"y":0.8},{"s":"b5","k":"bluewide","x":0.33,"y":1},{"s":"b5","k":"bluewide","x":0.24,"y":1.17},{"s":"b5","k":"bluewide","x":0.12,"y":1.27},
{"s":"b6","k":"white","x":0.3,"y":0.55},{"s":"b6","k":"white","x":0.35,"y":0.75},{"s":"b6","k":"white","x":0.34,"y":0.95},
{"s":"b7","k":"bluewide","x":-0.49,"y":-0.05},{"s":"b7","k":"bluewide","x":-0.25,"y":0.05},{"s":"b7","k":"bluewide","x":-0.05,"y":0.14},
{"s":"r","k":"red","x":-0.17,"y":0.16},{"s":"r","k":"red","x":-0.39,"y":0.52},{"s":"r","k":"red","x":-0.42,"y":0.73},{"s":"r","k":"red","x":-0.39,"y":0.91},{"s":"r","k":"red","x":-0.31,"y":0.99},{"s":"r","k":"red","x":-0.26,"y":0.9},{"s":"r","k":"red","x":-0.18,"y":0.8},{"s":"r","k":"red","x":-0.03,"y":0.74},{"s":"r","k":"red","x":0.12,"y":0.79},{"s":"r","k":"red","x":0.2,"y":0.9},{"s":"r","k":"red","x":0.25,"y":1},{"s":"r","k":"red","x":0.29,"y":0.77},{"s":"r","k":"red","x":0.19,"y":0.49},{"s":"r","k":"red","x":0.03,"y":0.27},{"s":"r","k":"red","x":-0.09,"y":0.16},{"s":"r","k":"red","x":-0.17,"y":0.16},
{"s":"o0","k":"orangewide","x":-0.37,"y":0.85},{"s":"o0","k":"orangewide","x":-0.34,"y":1.03},{"s":"o0","k":"orangewide","x":-0.2,"y":1.22},{"s":"o0","k":"orangewide","x":-0.02,"y":1.28},{"s":"o0","k":"orangewide","x":0.14,"y":1.23},{"s":"o0","k":"orangewide","x":0.23,"y":1.08},
{"s":"o1","k":"orange","x":0.03,"y":0.24},{"s":"o1","k":"orange","x":0.43,"y":0},{"s":"o1","k":"orange","x":1.03,"y":-0.12},{"s":"o1","k":"orange","x":1.63,"y":-0.14},{"s":"o1","k":"orange","x":1.95,"y":-0.04},{"s":"o1","k":"orange","x":2.17,"y":-0.03},{"s":"o1","k":"orange","x":2.2,"y":-0.08},{"s":"o1","k":"orange","x":1.95,"y":-0.22},{"s":"o1","k":"orange","x":1.43,"y":-0.32},{"s":"o1","k":"orange","x":1.03,"y":-0.3},{"s":"o1","k":"orange","x":0.63,"y":-0.16},{"s":"o1","k":"orange","x":0.23,"y":0.04},{"s":"o1","k":"orange","x":-0.05,"y":0.17},
{"s":"o2","k":"amber","x":0.07,"y":0.21},{"s":"o2","k":"amber","x":0.46,"y":-0.02},{"s":"o2","k":"amber","x":1.03,"y":-0.14},{"s":"o2","k":"amber","x":1.63,"y":-0.16},{"s":"o2","k":"amber","x":1.95,"y":-0.07},{"s":"o2","k":"amber","x":2.12,"y":-0.06},{"s":"o2","k":"amber","x":1.95,"y":-0.19},{"s":"o2","k":"amber","x":1.43,"y":-0.3},{"s":"o2","k":"amber","x":1.03,"y":-0.28},
{"s":"o3","k":"amber","x":1.45,"y":-0.16},{"s":"o3","k":"amber","x":1.83,"y":-0.14},{"s":"o3","k":"amber","x":1.98,"y":-0.11},{"s":"o3","k":"amber","x":1.85,"y":-0.19},{"s":"o3","k":"amber","x":1.65,"y":-0.26},
{"s":"o4","k":"amber","x":0.43,"y":-0.07},{"s":"o4","k":"amber","x":0.2,"y":0.05},
{"s":"o5","k":"orange","x":2.5,"y":-0.81},{"s":"o5","k":"orange","x":2,"y":-0.72},{"s":"o5","k":"orange","x":1.5,"y":-0.61},{"s":"o5","k":"orange","x":1,"y":-0.44},{"s":"o5","k":"orange","x":0.5,"y":-0.2},{"s":"o5","k":"orange","x":0.2,"y":-0.03},{"s":"o5","k":"orange","x":-0.05,"y":0.11},{"s":"o5","k":"orange","x":-0.15,"y":0.17},
{"s":"o6","k":"orange","x":2.5,"y":-0.91},{"s":"o6","k":"orange","x":2,"y":-0.79},{"s":"o6","k":"orange","x":1.5,"y":-0.65},{"s":"o6","k":"orange","x":1,"y":-0.47},{"s":"o6","k":"orange","x":0.5,"y":-0.23},{"s":"o6","k":"orange","x":0.2,"y":-0.06},{"s":"o6","k":"orange","x":-0.05,"y":0.08},
{"s":"o7","k":"amber","x":2.5,"y":-1},{"s":"o7","k":"amber","x":2,"y":-0.85},{"s":"o7","k":"amber","x":1.5,"y":-0.69},{"s":"o7","k":"amber","x":1,"y":-0.5},{"s":"o7","k":"amber","x":0.5,"y":-0.25},{"s":"o7","k":"amber","x":0.2,"y":-0.08},
{"s":"o8","k":"amber","x":2.5,"y":-1.04},{"s":"o8","k":"amber","x":2,"y":-0.88},{"s":"o8","k":"amber","x":1.5,"y":-0.71},{"s":"o8","k":"amber","x":1,"y":-0.52},{"s":"o8","k":"amber","x":0.5,"y":-0.27},{"s":"o8","k":"amber","x":0.2,"y":-0.1},
{"s":"ring","k":"orangewide","x":0.205,"y":0.985},{"s":"ring","k":"orangewide","x":0.14,"y":1.145},{"s":"ring","k":"orangewide","x":-0.02,"y":1.21},{"s":"ring","k":"orangewide","x":-0.18,"y":1.145},{"s":"ring","k":"orangewide","x":-0.245,"y":0.985},{"s":"ring","k":"orangewide","x":-0.18,"y":0.825},{"s":"ring","k":"orangewide","x":-0.02,"y":0.76},{"s":"ring","k":"orangewide","x":0.14,"y":0.825},{"s":"ring","k":"orangewide","x":0.205,"y":0.985}
]},
"vconcat":[
{"hconcat":[
{"title":{"text":"(a)"},"width":416,"height":344.4,"data":{"name":"a"},"mark":{"type":"line","interpolate":"catmull-rom"},
"encoding":{"order":{"value":null},"detail":{"field":"s"},
"x":{"field":"x","type":"quantitative","scale":{"domain":[-2.5,2.5],"nice":false,"zero":false},"axis":{"title":"X","tickSize":{"condition":{"test":"abs(datum.value*2-round(datum.value*2))<0.01","value":-8},"value":-5}}},
"y":{"field":"y","type":"quantitative","scale":{"domain":[-2,2.1],"nice":false,"zero":false,"range":[342,0]},"axis":{"title":"Y","tickSize":{"condition":{"test":"abs(datum.value*2-round(datum.value*2))<0.01","value":-8},"value":-5}}},
"stroke":{"field":"k","type":"nominal","legend":null,"scale":{"domain":["navy","navystrip","red","blue","sky","bluewide","orange","amber","orangewide","white"],"range":["#1590ee","#000c62","#ff9a10","#0a55ee","#15a5f5","#0a55ee","#f04808","#ffa010","#f04808","#ffffff"]}},
"fill":{"field":"k","type":"nominal","legend":null,"scale":{"domain":["navy","red","navystrip","blue","sky","bluewide","orange","amber","orangewide","white"],"range":["#000c62","#b81c00","transparent","transparent","transparent","transparent","transparent","transparent","transparent","transparent"]}},
"strokeWidth":{"field":"k","type":"nominal","legend":null,"scale":{"type":"ordinal","domain":["navy","navystrip","red","blue","sky","bluewide","orange","amber","orangewide","white"],"range":[1.5,3,1.5,2.4,1.5,5,2.4,1.6,7,1]}}}},
{"title":{"text":"(b)"},"width":420.6,"height":344.4,"data":{"name":"b"},"mark":{"type":"line","interpolate":"catmull-rom"},
"encoding":{"order":{"value":null},"detail":{"field":"s"},
"x":{"field":"x","type":"quantitative","scale":{"domain":[-2.5,2.5],"nice":false,"zero":false},"axis":{"title":"X","tickSize":{"condition":{"test":"abs(datum.value*2-round(datum.value*2))<0.01","value":-8},"value":-5}}},
"y":{"field":"y","type":"quantitative","scale":{"domain":[-2,2.1],"nice":false,"zero":false},"axis":{"title":"Y","tickSize":{"condition":{"test":"abs(datum.value*2-round(datum.value*2))<0.01","value":-8},"value":-5}}},
"stroke":{"field":"k","type":"nominal","legend":null,"scale":{"domain":["navy","navystrip","red","blue","sky","bluewide","orange","amber","orangewide","white"],"range":["#1590ee","#000c62","#ff9a10","#0a55ee","#15a5f5","#0a55ee","#f04808","#ffa010","#f04808","#ffffff"]}},
"fill":{"field":"k","type":"nominal","legend":null,"scale":{"domain":["navy","red","navystrip","blue","sky","bluewide","orange","amber","orangewide","white"],"range":["#000c62","#b81c00","transparent","transparent","transparent","transparent","transparent","transparent","transparent","transparent"]}},
"strokeWidth":{"field":"k","type":"nominal","legend":null,"scale":{"type":"ordinal","domain":["navy","navystrip","red","blue","sky","bluewide","orange","amber","orangewide","white"],"range":[1.5,3,1.5,2.2,1.5,5,2.4,1.6,4,1]}}}}
],"spacing":94.4,"bounds":"flush"},
{"hconcat":[
{"title":{"text":"(c)","dx":-25,"offset":19},"width":421.7,"height":343.7,"data":{"name":"c"},"mark":{"type":"line","interpolate":"catmull-rom"},
"encoding":{"order":{"value":null},"detail":{"field":"s"},
"x":{"field":"x","type":"quantitative","scale":{"domain":[-2.5,2.5],"nice":false,"zero":false,"range":[1.7,421.7]},"axis":{"title":"X","tickSize":{"condition":{"test":"abs(datum.value*2-round(datum.value*2))<0.01","value":-8},"value":-5}}},
"y":{"field":"y","type":"quantitative","scale":{"domain":[-2,2.1],"nice":false,"zero":false},"axis":{"title":"Y","tickSize":{"condition":{"test":"abs(datum.value*2-round(datum.value*2))<0.01","value":-8},"value":-5}}},
"stroke":{"field":"k","type":"nominal","legend":null,"scale":{"domain":["navy","navystrip","red","blue","sky","bluewide","orange","amber","orangewide","white"],"range":["#1590ee","#000c62","#ff9a10","#0a55ee","#15a5f5","#0a55ee","#f04808","#ffa010","#f04808","#ffffff"]}},
"fill":{"field":"k","type":"nominal","legend":null,"scale":{"domain":["navy","red","navystrip","blue","sky","bluewide","orange","amber","orangewide","white"],"range":["#000c62","#b81c00","transparent","transparent","transparent","transparent","transparent","transparent","transparent","transparent"]}},
"strokeWidth":{"field":"k","type":"nominal","legend":null,"scale":{"type":"ordinal","domain":["navy","navystrip","red","blue","sky","bluewide","orange","amber","orangewide","white"],"range":[1.5,3,1.5,2.2,1.5,4,2.4,1.6,4,1]}}}},
{"title":{"text":"(d)","offset":19},"width":416.3,"height":343.7,"data":{"name":"d"},"mark":{"type":"line","interpolate":"catmull-rom"},
"encoding":{"order":{"value":null},"detail":{"field":"s"},
"x":{"field":"x","type":"quantitative","scale":{"domain":[-2.5,2.5],"nice":false,"zero":false},"axis":{"title":"X","tickSize":{"condition":{"test":"abs(datum.value*2-round(datum.value*2))<0.01","value":-8},"value":-5}}},
"y":{"field":"y","type":"quantitative","scale":{"domain":[-2,2.1],"nice":false,"zero":false,"range":[341.7,0]},"axis":{"title":"Y","tickSize":{"condition":{"test":"abs(datum.value*2-round(datum.value*2))<0.01","value":-8},"value":-5}}},
"stroke":{"field":"k","type":"nominal","legend":null,"scale":{"domain":["navy","navystrip","red","blue","sky","bluewide","orange","amber","orangewide","white"],"range":["#1590ee","#000c62","#ff9a10","#0a55ee","#15a5f5","#0a55ee","#f04808","#ffa010","#f04808","#ffffff"]}},
"fill":{"field":"k","type":"nominal","legend":null,"scale":{"domain":["navy","red","navystrip","blue","sky","bluewide","orange","amber","orangewide","white"],"range":["#000c62","#b81c00","transparent","transparent","transparent","transparent","transparent","transparent","transparent","transparent"]}},
"strokeWidth":{"field":"k","type":"nominal","legend":null,"scale":{"type":"ordinal","domain":["navy","navystrip","red","blue","sky","bluewide","orange","amber","orangewide","white"],"range":[1.5,3,1.5,2.4,1.5,6,2.4,1.6,7,1]}}}}
],"spacing":93.7,"bounds":"flush"}
]}
